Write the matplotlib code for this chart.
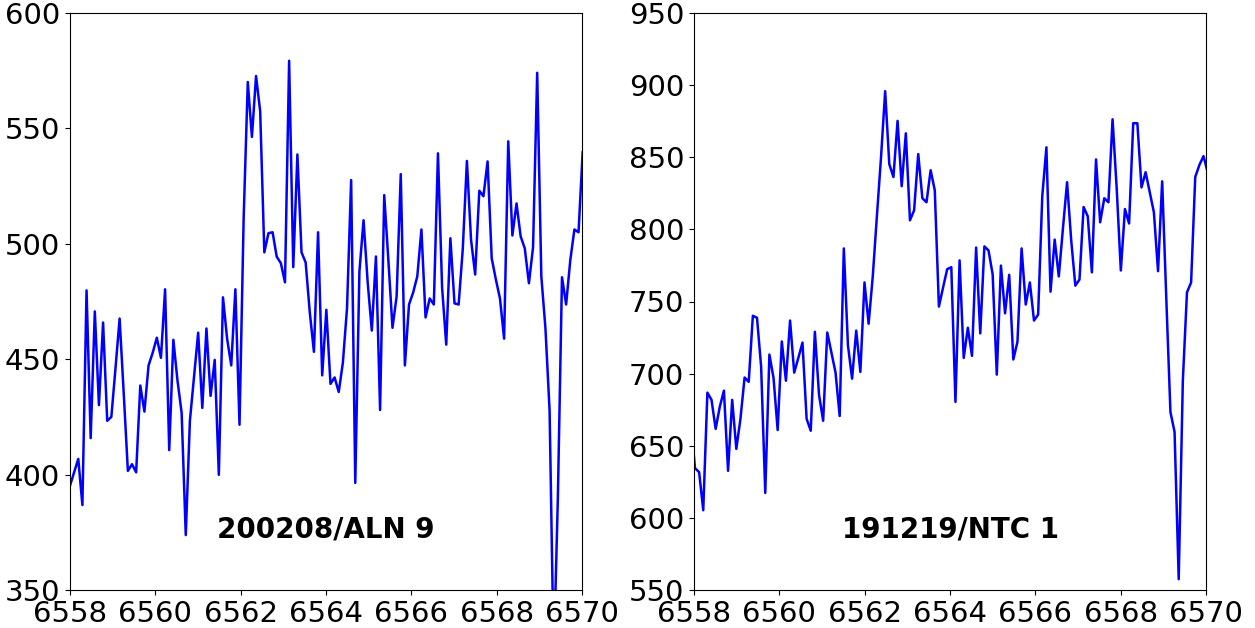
import numpy as np
import matplotlib
matplotlib.use("Agg")
import matplotlib.pyplot as plt

step = 0.0969

aln9_start = 6558.0
aln9_flux = [
    395.2, 401.0, 406.8, 386.8, 479.8, 415.8, 470.7, 430.1, 465.9, 423.3,
    425.0, 446.0, 467.6, 435.0, 401.6, 404.5, 401.0, 438.6, 427.3, 447.3,
    452.8, 459.3, 450.6, 480.3, 410.6, 458.4, 440.7, 426.8, 373.8, 423.3,
    442.4, 461.5, 428.9, 463.3, 434.1, 449.7, 399.9, 476.8, 458.9, 447.3,
    480.3, 421.6, 511.0, 570.1, 546.3, 572.7, 557.4, 496.3, 504.6, 505.0,
    494.4, 491.6, 483.3, 579.3, 489.9, 538.7, 496.3, 491.9, 470.2, 453.2,
    505.0, 443.0, 471.4, 439.3, 442.1, 435.8, 448.5, 472.0, 527.6, 396.4,
    488.0, 510.2, 483.3, 462.4, 494.5, 428.0, 521.1, 493.0, 463.6, 477.2,
    530.2, 447.3, 473.7, 478.9, 485.9, 506.2, 468.1, 476.3, 473.7, 539.2,
    481.0, 456.3, 502.4, 474.2, 473.7, 497.7, 535.9, 501.8, 486.7, 523.0,
    520.6, 535.7, 493.7, 484.6, 476.3, 458.9, 544.4, 503.6, 517.5, 503.2,
    498.0, 482.9, 498.5, 574.1, 485.9, 463.3, 427.7, 320.0, 390.0, 485.5,
    473.7, 492.8, 506.2, 505.0, 539.7,
]

ntc1_start = 6557.926
ntc1_flux = [
    667.0,
    634.5, 631.7, 605.3, 686.8, 681.8, 661.7, 677.0, 688.2, 632.6, 681.8,
    647.8, 668.7, 697.3, 694.3, 740.1, 738.7, 704.8, 617.3, 713.2, 697.0,
    660.9, 722.3, 695.1, 736.8, 700.7, 710.9, 721.5, 668.7, 660.4, 729.0,
    685.4, 667.3, 728.5, 714.6, 700.7, 670.6, 786.8, 719.6, 696.5, 729.8,
    701.2, 763.2, 734.6, 767.4, 809.1, 850.0, 895.8, 845.2, 836.3, 875.2,
    829.9, 866.6, 806.3, 813.2, 852.2, 821.6, 818.8, 841.0, 827.1, 746.5,
    759.6, 772.4, 773.8, 680.4, 778.5, 710.9, 731.8, 712.3, 787.4, 727.9,
    788.2, 785.4, 768.8, 699.3, 774.9, 741.8, 768.5, 709.8, 722.1, 786.8,
    747.9, 763.2, 736.8, 740.9, 823.0, 856.9, 756.8, 792.9, 767.4, 800.7,
    832.7, 792.4, 761.0, 765.2, 815.5, 809.1, 770.2, 848.5, 804.9, 821.6,
    818.8, 876.3, 828.5, 771.5, 814.1, 804.1, 873.6, 873.6, 829.1, 839.6,
    825.7, 811.8, 771.0, 833.3, 752.0, 673.4, 659.5, 557.5, 695.1, 756.3,
    763.2, 836.3, 844.6, 850.8, 839.6,
]

panels = [
    ("200208/ALN 9", aln9_start, aln9_flux, (350, 600)),
    ("191219/NTC 1", ntc1_start, ntc1_flux, (550, 950)),
]

fig = plt.figure(figsize=(12.55, 6.28), dpi=100)
lefts = [70 / 1255, 694 / 1255]

for left, (name, start, flux, ylim) in zip(lefts, panels):
    ax = fig.add_axes([left, 38 / 628, 512 / 1255, 577 / 628])
    wl = start + step * np.arange(len(flux))
    ax.plot(wl, flux, color="blue", linewidth=1.8)
    ax.set_xlim(6558, 6570)
    ax.set_ylim(*ylim)
    ax.set_xticks(np.arange(6558, 6571, 2))
    ax.set_yticks(np.arange(ylim[0], ylim[1] + 1, 50))
    ax.tick_params(labelsize=21)
    ax.text(0.5, 0.104, name, transform=ax.transAxes, ha="center",
            va="center", fontsize=20, fontweight="bold")

fig.savefig("out.png", dpi=100)
